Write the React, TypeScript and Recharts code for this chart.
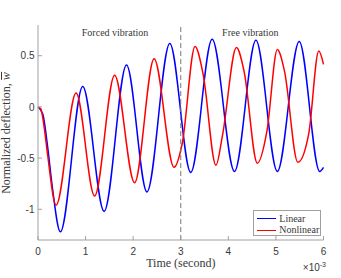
import React from 'react';
import { LineChart, Line, XAxis, YAxis, ReferenceLine } from 'recharts';

// time in units of 1e-3 s, normalized deflection
const linearT = [0, 0.1, 0.2, 0.3, 0.47, 0.94, 1.39, 1.86, 2.29, 2.77, 3.21, 3.66, 4.13, 4.58, 5.03, 5.49, 5.92, 6.0];
const linearW = [0, -0.07, -0.38, -0.78, -1.22, 0.2, -1.02, 0.41, -0.83, 0.62, -0.64, 0.66, -0.63, 0.65, -0.63, 0.64, -0.63, -0.59];

const nonlinearT = [
  0, 0.06, 0.13, 0.2, 0.38, 0.8, 1.19, 1.61, 2.03, 2.44, 2.86, 3.03, 3.3, 3.47, 3.74, 3.88, 4.17, 4.33,
  4.61, 4.81, 5.03, 5.18, 5.46, 5.69, 5.9, 6.0,
];
const nonlinearW = [
  0, -0.02, -0.2, -0.46, -0.96, 0.135, -0.87, 0.31, -0.74, 0.47, -0.59, -0.36, 0.59, 0.32, -0.57, -0.27, 0.58, 0.35,
  -0.55, -0.24, 0.56, 0.35, -0.54, -0.26, 0.545, 0.415,
];

const xTicks = [0, 1, 2, 3, 4, 5, 6];
const yTicks = [-1, -0.5, 0, 0.5];
const switchTime = 3;

const linearData = linearT.map((t, i) => ({ t, w: linearW[i] }));
const nonlinearData = nonlinearT.map((t, i) => ({ t, w: nonlinearW[i] }));

const AXIS = '#a0a0a0';
const TXT = '#383838';
const SANS = '"Liberation Sans", Arial, sans-serif';
const SERIF = '"Liberation Serif", "Times New Roman", serif';

// inward tick marks, label drawn at an offset from the axis
const BottomTick = ({ x, y, payload }: any) => (
  <g>
    <line x1={x} x2={x} y1={y} y2={y - 4} stroke={AXIS} />
    <text x={x} y={y + 15} textAnchor="middle" fontSize={10} fontFamily={SANS} fill={TXT}>
      {payload.value}
    </text>
  </g>
);
const TopTick = ({ x, y }: any) => <line x1={x} x2={x} y1={y} y2={y + 4} stroke={AXIS} />;
const LeftTick = ({ x, y, payload }: any) => (
  <g>
    <line x1={x} x2={x + 4} y1={y} y2={y} stroke={AXIS} />
    <text x={x - 3.5} y={y + 3.6} textAnchor="end" fontSize={10} fontFamily={SANS} fill={TXT}>
      {payload.value}
    </text>
  </g>
);
const RightTick = ({ x, y }: any) => <line x1={x} x2={x - 4} y1={y} y2={y} stroke={AXIS} />;

export default function App() {
  return (
    <div style={{ position: 'absolute', left: 0, top: 0, width: 341, height: 278, background: '#fff' }}>
      <LineChart width={341} height={278} margin={{ top: 25, right: 17.5, bottom: 18, left: 0 }}>
        <XAxis
          xAxisId="b"
          dataKey="t"
          type="number"
          domain={[0, 6]}
          ticks={xTicks}
          interval={0}
          height={20}
          tickSize={0}
          tickMargin={0}
          tick={<BottomTick />}
          tickLine={false}
          axisLine={{ stroke: AXIS }}
        />
        <XAxis
          xAxisId="top"
          orientation="top"
          dataKey="t"
          type="number"
          domain={[0, 6]}
          ticks={xTicks}
          interval={0}
          height={0}
          tickSize={0}
          tickMargin={0}
          tick={<TopTick />}
          tickLine={false}
          axisLine={{ stroke: AXIS }}
        />
        <YAxis
          yAxisId="l"
          type="number"
          domain={[-1.3, 0.8]}
          ticks={yTicks}
          interval={0}
          width={38}
          tickSize={0}
          tickMargin={0}
          tick={<LeftTick />}
          tickLine={false}
          axisLine={{ stroke: AXIS }}
        />
        <YAxis
          yAxisId="r"
          orientation="right"
          type="number"
          domain={[-1.3, 0.8]}
          ticks={yTicks}
          interval={0}
          width={0}
          tickSize={0}
          tickMargin={0}
          tick={<RightTick />}
          tickLine={false}
          axisLine={{ stroke: AXIS }}
        />
        <Line
          xAxisId="b"
          yAxisId="l"
          data={linearData}
          dataKey="w"
          type="monotone"
          stroke="#0000ff"
          strokeWidth={1.5}
          dot={false}
          isAnimationActive={false}
        />
        <Line
          xAxisId="b"
          yAxisId="l"
          data={nonlinearData}
          dataKey="w"
          type="monotone"
          stroke="#ff0000"
          strokeWidth={1.5}
          dot={false}
          isAnimationActive={false}
        />
        <ReferenceLine xAxisId="b" yAxisId="l" x={switchTime} stroke="#777" strokeDasharray="5 3" />
      </LineChart>

      {/* annotations */}
      <div style={{ position: 'absolute', left: 115, top: 28.3, transform: 'translateX(-50%)', fontFamily: SERIF, fontSize: 10, lineHeight: 1, color: TXT, whiteSpace: 'nowrap' }}>
        Forced vibration
      </div>
      <div style={{ position: 'absolute', left: 250.3, top: 28.3, transform: 'translateX(-50%)', fontFamily: SERIF, fontSize: 10, lineHeight: 1, color: TXT, whiteSpace: 'nowrap' }}>
        Free vibration
      </div>

      {/* axis titles */}
      <div style={{ position: 'absolute', left: 180.8, top: 257, transform: 'translateX(-50%)', fontFamily: SERIF, fontSize: 12, lineHeight: 1, color: TXT, whiteSpace: 'nowrap' }}>
        Time (second)
      </div>
      <div style={{ position: 'absolute', left: 6.2, top: 132.5, transform: 'translate(-50%, -50%) rotate(-90deg)', fontFamily: SERIF, fontSize: 12, lineHeight: 1, color: TXT, whiteSpace: 'nowrap' }}>
        Normalized deflection,{' '}
        <span style={{ display: 'inline-block', fontStyle: 'italic', borderTop: `1px solid ${TXT}`, lineHeight: 0.75 }}>w</span>
      </div>
      <div style={{ position: 'absolute', right: 341 - 326, top: 261, fontFamily: SANS, fontSize: 10, lineHeight: 1, color: TXT, whiteSpace: 'nowrap' }}>
        ×10<sup style={{ fontSize: 7, verticalAlign: 4 }}>-3</sup>
      </div>

      {/* legend */}
      <div style={{ position: 'absolute', left: 253.3, top: 210, width: 68, height: 26, border: `1px solid ${AXIS}`, background: '#fff', boxSizing: 'border-box', fontFamily: SERIF, fontSize: 10, color: TXT }}>
        {[
          { name: 'Linear', color: '#0000ff' },
          { name: 'Nonlinear', color: '#ff0000' },
        ].map((e, i) => (
          <div key={e.name} style={{ position: 'absolute', left: 3, top: 2 + i * 11.6, height: 11, display: 'flex', alignItems: 'center', whiteSpace: 'nowrap' }}>
            <span style={{ display: 'inline-block', width: 19, height: 0, borderTop: `1.5px solid ${e.color}`, marginRight: 3 }} />
            <span style={{ lineHeight: 1 }}>{e.name}</span>
          </div>
        ))}
      </div>
    </div>
  );
}
